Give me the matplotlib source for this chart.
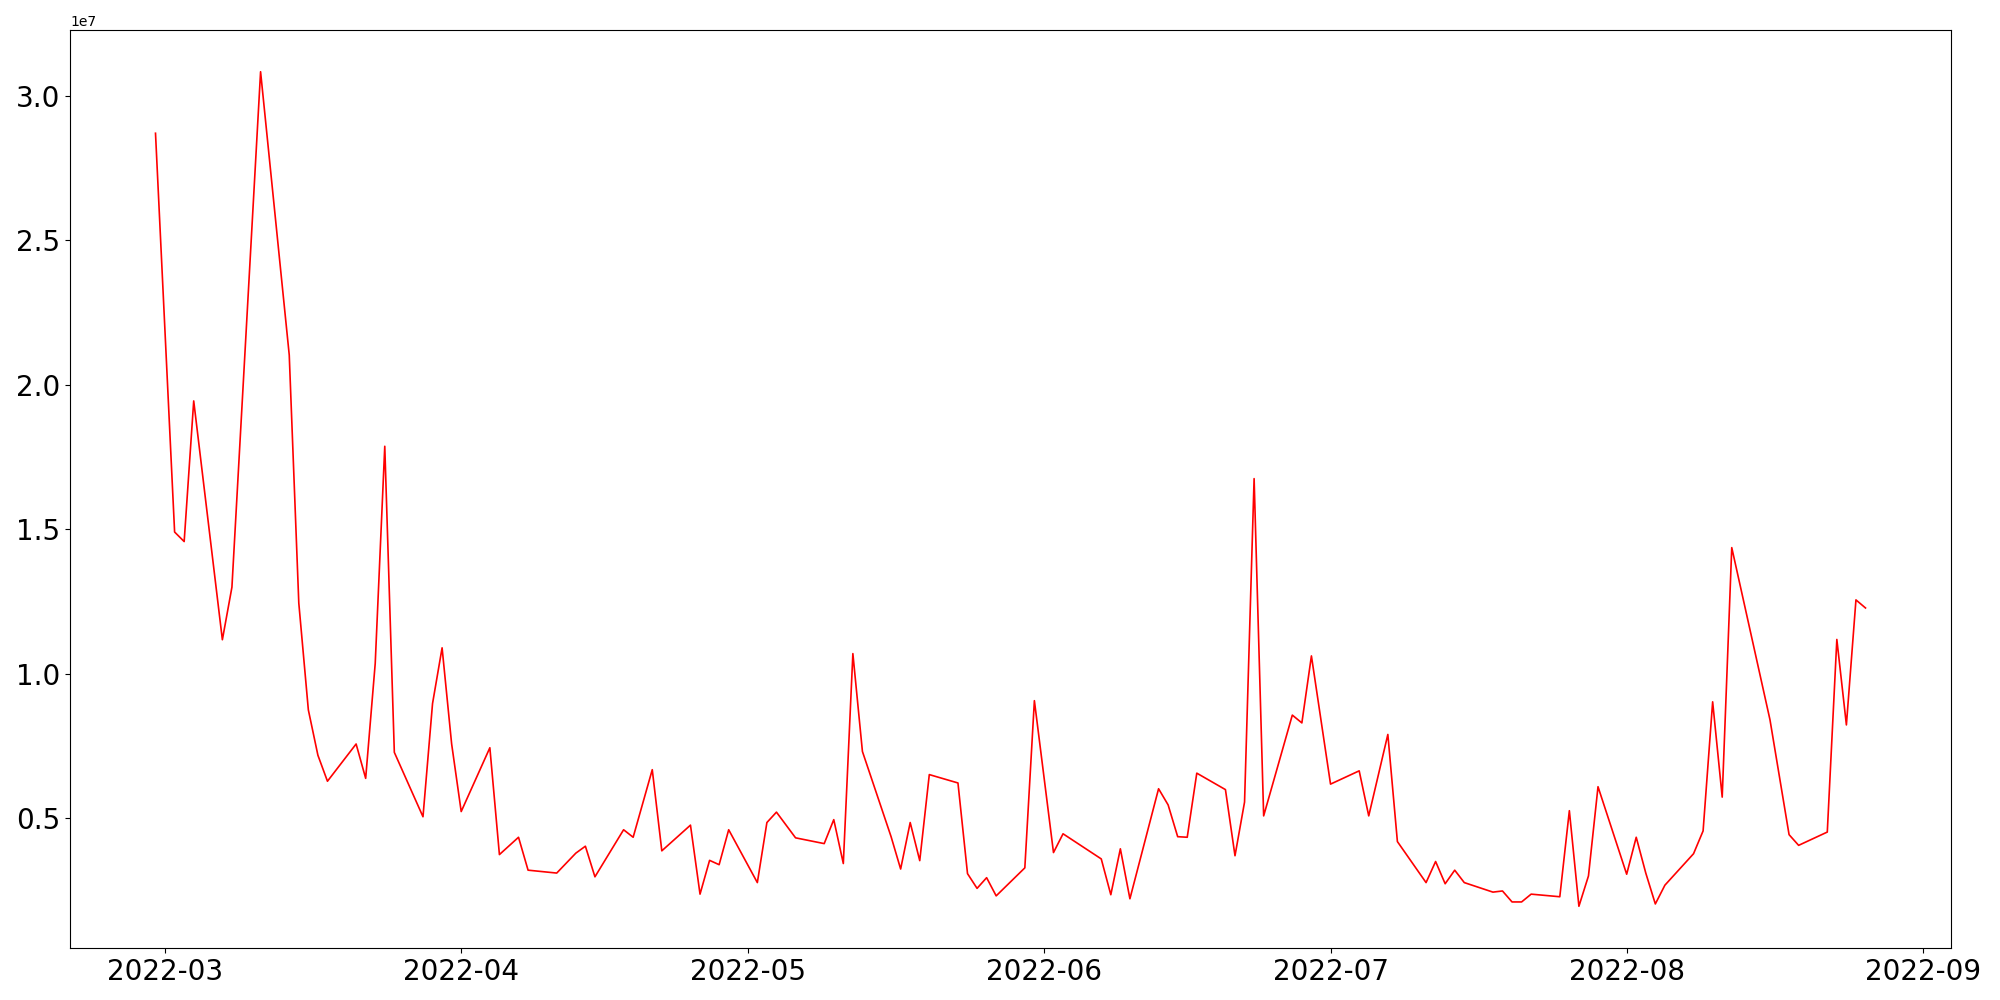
import matplotlib
matplotlib.use("Agg")
import matplotlib.pyplot as plt
import pandas as pd

dates = [
    "2022-02-28", "2022-03-02", "2022-03-03", "2022-03-04", "2022-03-07", "2022-03-08",
    "2022-03-11", "2022-03-14", "2022-03-15", "2022-03-16", "2022-03-17", "2022-03-18",
    "2022-03-21", "2022-03-22", "2022-03-23", "2022-03-24", "2022-03-25", "2022-03-28",
    "2022-03-29", "2022-03-30", "2022-03-31", "2022-04-01", "2022-04-04", "2022-04-05",
    "2022-04-07", "2022-04-08", "2022-04-11", "2022-04-13", "2022-04-14", "2022-04-15",
    "2022-04-18", "2022-04-19", "2022-04-21", "2022-04-22", "2022-04-25", "2022-04-26",
    "2022-04-27", "2022-04-28", "2022-04-29", "2022-05-02", "2022-05-03", "2022-05-04",
    "2022-05-06", "2022-05-09", "2022-05-10", "2022-05-11", "2022-05-12", "2022-05-13",
    "2022-05-16", "2022-05-17", "2022-05-18", "2022-05-19", "2022-05-20", "2022-05-23",
    "2022-05-24", "2022-05-25", "2022-05-26", "2022-05-27", "2022-05-30", "2022-05-31",
    "2022-06-02", "2022-06-03", "2022-06-07", "2022-06-08", "2022-06-09", "2022-06-10",
    "2022-06-13", "2022-06-14", "2022-06-15", "2022-06-16", "2022-06-17", "2022-06-20",
    "2022-06-21", "2022-06-22", "2022-06-23", "2022-06-24", "2022-06-27", "2022-06-28",
    "2022-06-29", "2022-07-01", "2022-07-04", "2022-07-05", "2022-07-07", "2022-07-08",
    "2022-07-11", "2022-07-12", "2022-07-13", "2022-07-14", "2022-07-15", "2022-07-18",
    "2022-07-19", "2022-07-20", "2022-07-21", "2022-07-22", "2022-07-25", "2022-07-26",
    "2022-07-27", "2022-07-28", "2022-07-29", "2022-08-01", "2022-08-02", "2022-08-03",
    "2022-08-04", "2022-08-05", "2022-08-08", "2022-08-09", "2022-08-10", "2022-08-11",
    "2022-08-12", "2022-08-16", "2022-08-18", "2022-08-19", "2022-08-22", "2022-08-23",
    "2022-08-24", "2022-08-25", "2022-08-26",
]

values_millions = [
    28.71, 14.90, 14.57, 19.44, 11.17, 12.99,
    30.84, 21.03, 12.44, 8.74, 7.17, 6.27,
    7.56, 6.37, 10.35, 17.87, 7.27, 5.04,
    8.96, 10.89, 7.56, 5.22, 7.43, 3.73,
    4.33, 3.19, 3.09, 3.78, 4.02, 2.96,
    4.59, 4.33, 6.67, 3.86, 4.75, 2.36,
    3.53, 3.38, 4.59, 2.76, 4.84, 5.20,
    4.31, 4.11, 4.94, 3.42, 10.69, 7.30,
    4.35, 3.23, 4.84, 3.52, 6.50, 6.21,
    3.07, 2.56, 2.93, 2.30, 3.27, 9.06,
    3.80, 4.45, 3.58, 2.34, 3.93, 2.20,
    6.01, 5.45, 4.35, 4.33, 6.55, 5.98,
    3.69, 5.55, 16.75, 5.07, 8.56, 8.29,
    10.61, 6.17, 6.63, 5.07, 7.89, 4.18,
    2.76, 3.49, 2.72, 3.19, 2.76, 2.43,
    2.47, 2.09, 2.09, 2.36, 2.27, 5.25,
    1.94, 2.99, 6.08, 3.05, 4.33, 3.09,
    2.02, 2.67, 3.76, 4.55, 9.02, 5.72,
    14.36, 8.40, 4.42, 4.05, 4.51, 11.18,
    8.22, 12.55, 12.27,
]

x = pd.to_datetime(dates)
y = [v * 1e6 for v in values_millions]

fig, ax = plt.subplots(figsize=(20, 10), dpi=100)
fig.subplots_adjust(left=0.035, right=0.9755, bottom=0.052, top=0.97)
ax.plot(x, y, color="red", linewidth=1.2)
ax.tick_params(axis="both", labelsize=20)
fig.savefig("out.png", dpi=100)
